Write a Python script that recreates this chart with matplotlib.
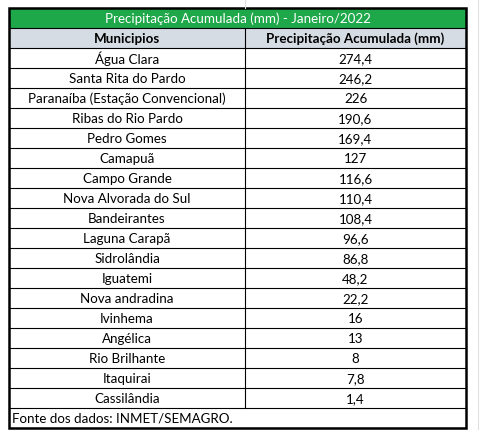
import matplotlib
matplotlib.use('Agg')
import matplotlib.pyplot as plt
from matplotlib.patches import Rectangle

title = 'Precipitação Acumulada (mm) - Janeiro/2022'
col_names = ['Municipios', 'Precipitação Acumulada (mm)']
municipios = ['Água Clara', 'Santa Rita do Pardo', 'Paranaíba (Estação Convencional)',
              'Ribas do Rio Pardo', 'Pedro Gomes', 'Camapuã', 'Campo Grande',
              'Nova Alvorada do Sul', 'Bandeirantes', 'Laguna Carapã', 'Sidrolândia',
              'Iguatemi', 'Nova andradina', 'Ivinhema', 'Angélica', 'Rio Brilhante',
              'Itaquirai', 'Cassilândia']
precip = ['274,4', '246,2', '226', '190,6', '169,4', '127', '116,6', '110,4', '108,4',
          '96,6', '86,8', '48,2', '22,2', '16', '13', '8', '7,8', '1,4']
fonte = 'Fonte dos dados: INMET/SEMAGRO.'

plt.rcParams['font.family'] = ['Lato', 'DejaVu Sans']
fs = 9.6
fig = plt.figure(figsize=(4.99, 4.31), dpi=100)
ax = fig.add_axes([0, 0, 1, 1])
ax.set_xlim(0, 499)
ax.set_ylim(431, 0)
ax.axis('off')

x0, x1, xm = 9, 466, 245
rh = 20
y_title = 9
y_head = 29
y_rows = 49
n = len(municipios)
y_foot = y_rows + n * rh
y_end = y_foot + rh

# faint spreadsheet grid outside the table
ax.plot([478, 478], [0, 431], color='#e0e0e0', lw=0.8)
ax.plot([xm, xm], [0, y_title], color='#e0e0e0', lw=0.8)

ax.add_patch(Rectangle((x0, y_title), x1 - x0, rh, color='#1fa84a', lw=0))
ax.add_patch(Rectangle((x0, y_head), x1 - x0, rh, color='#d6dce4', lw=0))
ax.text((x0 + x1) / 2, y_title + rh / 2, title, color='white', ha='center', va='center', fontsize=fs)
ax.text((x0 + xm) / 2, y_head + rh / 2, col_names[0], ha='center', va='center', fontsize=fs, fontweight='bold')
ax.text((xm + x1) / 2, y_head + rh / 2, col_names[1], ha='center', va='center', fontsize=fs, fontweight='bold')

for i, (m, p) in enumerate(zip(municipios, precip)):
    yc = y_rows + i * rh + rh / 2
    ax.text((x0 + xm) / 2, yc, m, ha='center', va='center', fontsize=fs)
    ax.text((xm + x1) / 2, yc, p, ha='center', va='center', fontsize=fs)

ax.text(x0 + 3, y_foot + rh / 2, fonte, ha='left', va='center', fontsize=fs)

# grid lines
for k in range(n + 3):
    yy = y_head + k * rh
    ax.plot([x0, x1], [yy, yy], color='black', lw=0.8)
ax.plot([xm, xm], [y_head, y_foot], color='black', lw=0.8)
ax.add_patch(Rectangle((x0, y_title), x1 - x0, y_end - y_title, fill=False, ec='black', lw=1.8))

fig.savefig('out.png', dpi=100)
